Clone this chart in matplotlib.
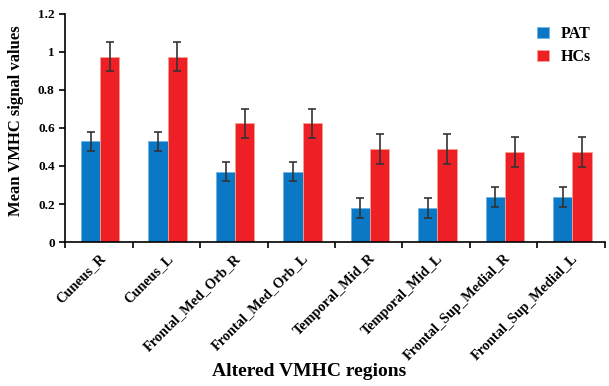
import numpy as np
import matplotlib
matplotlib.use("Agg")
import matplotlib.pyplot as plt

# ---- data ----
regions = ["Cuneus_R", "Cuneus_L", "Frontal_Med_Orb_R", "Frontal_Med_Orb_L",
           "Temporal_Mid_R", "Temporal_Mid_L", "Frontal_Sup_Medial_R", "Frontal_Sup_Medial_L"]
pat_mean = [0.53, 0.53, 0.37, 0.37, 0.18, 0.18, 0.235, 0.235]
pat_err = [0.05, 0.05, 0.05, 0.05, 0.053, 0.053, 0.053, 0.053]
hc_mean = [0.975, 0.975, 0.625, 0.625, 0.49, 0.49, 0.473, 0.473]
hc_err = [0.077, 0.077, 0.077, 0.077, 0.078, 0.078, 0.077, 0.077]
yticks = [0, 0.2, 0.4, 0.6, 0.8, 1, 1.2]
ytick_labels = ["0", "0.2", "0.4", "0.6", "0.8", "1", "1.2"]

BLUE = "#0A78C4"
RED = "#EE2025"
plt.rcParams["font.family"] = ["Liberation Serif", "DejaVu Serif"]
plt.rcParams["font.weight"] = "bold"

fig = plt.figure(figsize=(6.09, 3.86), dpi=100)
ax = fig.add_axes([0.107, 0.373, 0.886, 0.591])

x = np.arange(len(regions))
w = 0.285
err_kw = dict(ecolor="#333333", elinewidth=1.2, capsize=3, capthick=1.2)
ax.bar(x - w / 2 + 0.02, pat_mean, w, yerr=pat_err, color=BLUE, edgecolor="#6FB5E6",
       linewidth=0.6, error_kw=err_kw, label="PAT")
ax.bar(x + w / 2 + 0.02, hc_mean, w, yerr=hc_err, color=RED, edgecolor="#F5A08F",
       linewidth=0.6, error_kw=err_kw, label="HCs")

ax.set_xlim(-0.5, len(regions) - 0.5)
ax.set_ylim(0, 1.2)
ax.set_yticks(yticks)
ax.set_yticklabels(ytick_labels, fontsize=9.5, fontweight="bold")
ax.set_xticks(x)
ax.set_xticklabels(regions, rotation=45, ha="right", rotation_mode="anchor",
                   fontsize=10.3, fontweight="bold")
ax.set_xticks(np.arange(len(regions) + 1) - 0.5, minor=True)
ax.tick_params(axis="x", which="major", length=0, pad=7)
ax.tick_params(axis="x", which="minor", length=4, width=1.2)
ax.tick_params(axis="y", length=4, width=1.2)
for s in ["top", "right"]:
    ax.spines[s].set_visible(False)
for s in ["left", "bottom"]:
    ax.spines[s].set_linewidth(1.2)

ax.set_ylabel("Mean VMHC signal values", fontsize=12, fontweight="bold")
ax.yaxis.set_label_coords(-0.076, 0.53)
ax.set_xlabel("Altered VMHC regions", fontsize=14, fontweight="bold")
ax.xaxis.set_label_coords(0.453, -0.53)

ax.legend(loc="upper right", bbox_to_anchor=(1.0, 1.01), frameon=False,
          handlelength=0.75, handleheight=0.75, handletextpad=0.7, labelspacing=0.45,
          prop={"weight": "bold", "size": 11.5})

fig.savefig("out.png", dpi=100)
